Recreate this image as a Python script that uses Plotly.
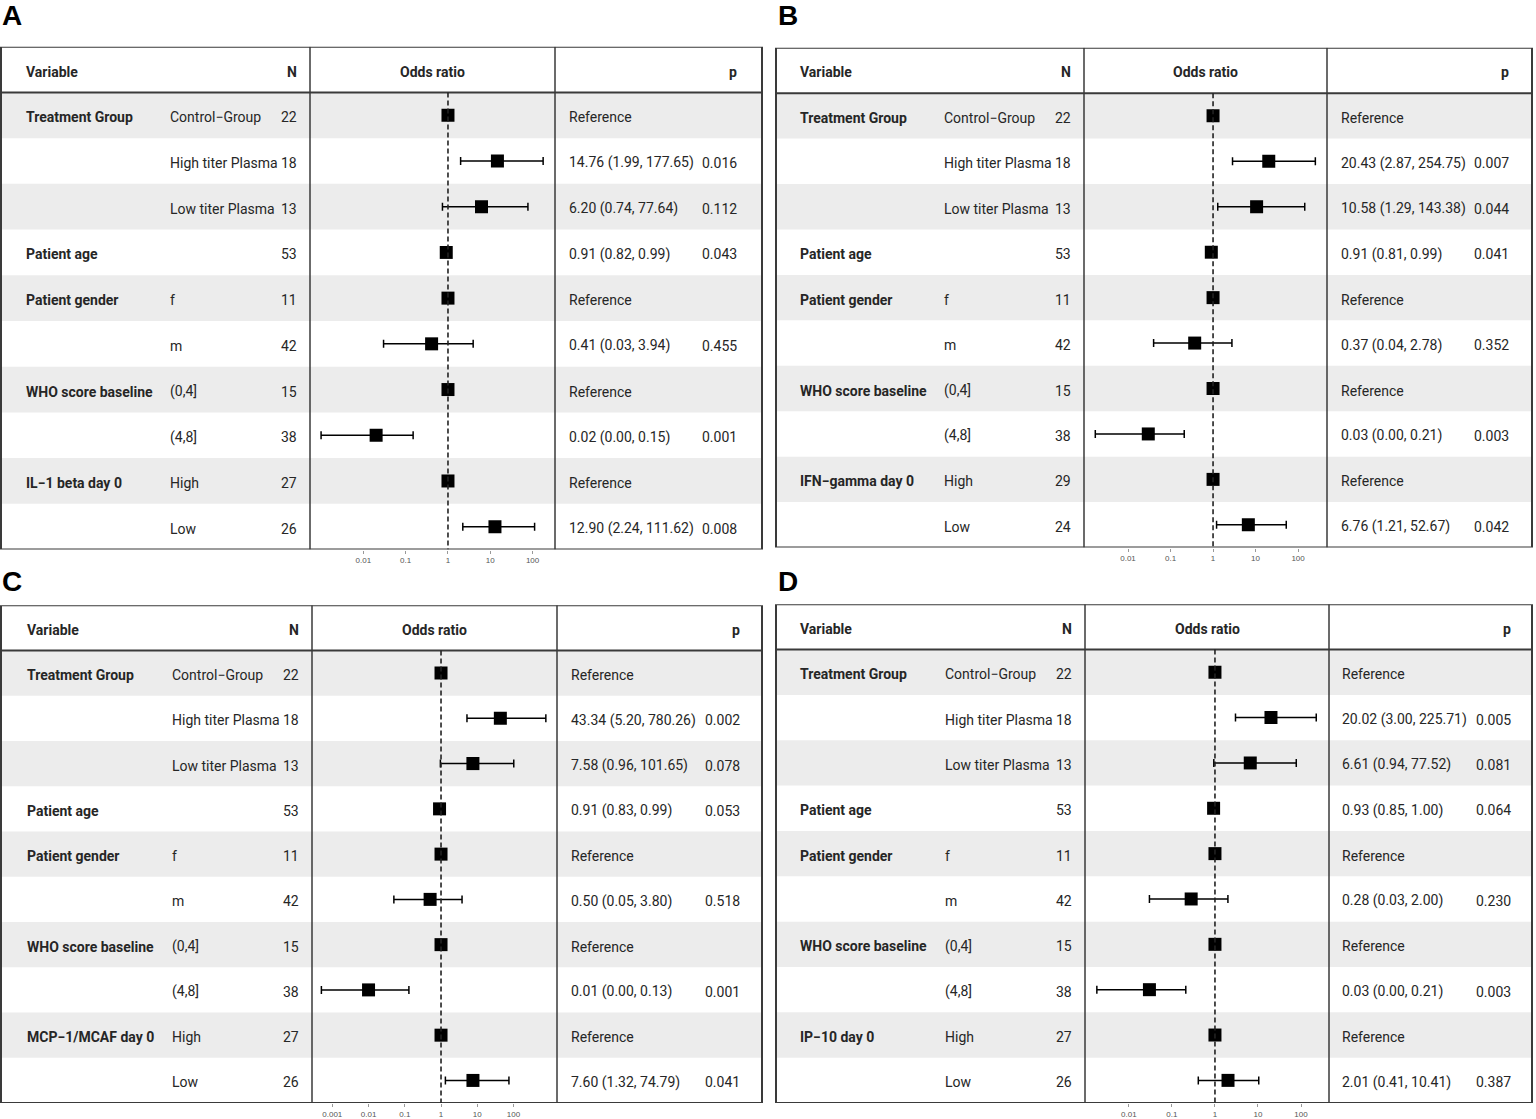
import plotly.graph_objects as go

W, H = 1536, 1119
M = "\u2212"

# shared table structure
levels = ["Control" + M + "Group", "High titer Plasma", "Low titer Plasma", "", "f", "m",
          "(0,4]", "(4,8]", "High", "Low"]
base_vars = ["Treatment Group", "", "", "Patient age", "Patient gender", "",
             "WHO score baseline", "", None, ""]
ref_rows = [0, 4, 6, 8]

# panel A
var_a = "IL" + M + "1 beta day 0"
n_a = [22, 18, 13, 53, 11, 42, 15, 38, 27, 26]
or_a = [1, 14.76, 6.20, 0.91, 1, 0.41, 1, 0.02, 1, 12.90]
lo_a = [None, 1.99, 0.74, 0.82, None, 0.03, None, 0.001, None, 2.24]
hi_a = [None, 177.65, 77.64, 0.99, None, 3.94, None, 0.15, None, 111.62]
p_a = ["", "0.016", "0.112", "0.043", "", "0.455", "", "0.001", "", "0.008"]

# panel B
var_b = "IFN" + M + "gamma day 0"
n_b = [22, 18, 13, 53, 11, 42, 15, 38, 29, 24]
or_b = [1, 20.43, 10.58, 0.91, 1, 0.37, 1, 0.03, 1, 6.76]
lo_b = [None, 2.87, 1.29, 0.81, None, 0.04, None, 0.0017, None, 1.21]
hi_b = [None, 254.75, 143.38, 0.99, None, 2.78, None, 0.21, None, 52.67]
p_b = ["", "0.007", "0.044", "0.041", "", "0.352", "", "0.003", "", "0.042"]

# panel C
var_c = "MCP" + M + "1/MCAF day 0"
n_c = [22, 18, 13, 53, 11, 42, 15, 38, 27, 26]
or_c = [1, 43.34, 7.58, 0.91, 1, 0.50, 1, 0.01, 1, 7.60]
lo_c = [None, 5.20, 0.96, 0.83, None, 0.05, None, 0.0005, None, 1.32]
hi_c = [None, 780.26, 101.65, 0.99, None, 3.80, None, 0.13, None, 74.79]
p_c = ["", "0.002", "0.078", "0.053", "", "0.518", "", "0.001", "", "0.041"]

# panel D
var_d = "IP" + M + "10 day 0"
n_d = [22, 18, 13, 53, 11, 42, 15, 38, 27, 26]
or_d = [1, 20.02, 6.61, 0.93, 1, 0.28, 1, 0.03, 1, 2.01]
lo_d = [None, 3.00, 0.94, 0.85, None, 0.03, None, 0.0018, None, 0.41]
hi_d = [None, 225.71, 77.52, 1.00, None, 2.00, None, 0.21, None, 10.41]
p_d = ["", "0.005", "0.081", "0.064", "", "0.230", "", "0.003", "", "0.387"]

ticks_abd = [0.01, 0.1, 1, 10, 100]
ticks_c = [0.001, 0.01, 0.1, 1, 10, 100]

panels = [
    dict(tag="A", var=var_a, n=n_a, est=or_a, lo=lo_a, hi=hi_a, p=p_a, ticks=ticks_abd,
         box=(1, 762, 47, 553), plot=(310, 555), xr=[-3.262, 2.53],
         cols=(24, 168, 299, 567, 739), lab=(0, 16)),
    dict(tag="B", var=var_b, n=n_b, est=or_b, lo=lo_b, hi=hi_b, p=p_b, ticks=ticks_abd,
         box=(776, 1532, 48, 551), plot=(1084, 1327), xr=[-3.035, 2.68],
         cols=(798, 942, 1073, 1339, 1511), lab=(776, 16)),
    dict(tag="C", var=var_c, n=n_c, est=or_c, lo=lo_c, hi=hi_c, p=p_c, ticks=ticks_c,
         box=(1, 762, 609, 1110), plot=(312, 557), xr=[-3.56, 3.2],
         cols=(25, 170, 301, 569, 742), lab=(0, 585)),
    dict(tag="D", var=var_d, n=n_d, est=or_d, lo=lo_d, hi=hi_d, p=p_d, ticks=ticks_abd,
         box=(776, 1532, 608, 1110), plot=(1085, 1329), xr=[-3.02, 2.65],
         cols=(798, 943, 1074, 1340, 1513), lab=(776, 585)),
]

FONT = "Roboto, Liberation Sans, Arial"
TXT = "#262626"
LINE = "#3a3a3a"
SHADE = "#ececec"

fig = go.Figure()
shapes, annos = [], []
nrows = len(levels)

for k, pn in enumerate(panels, start=1):
    xa = "x" if k == 1 else f"x{k}"
    ya = "y" if k == 1 else f"y{k}"
    l, r, t, b = pn["box"]
    pl, pr = pn["plot"]
    cvar, clev, cn, cest, cp = pn["cols"]

    fig.update_layout(**{
        ("xaxis" if k == 1 else f"xaxis{k}"): dict(
            type="log", domain=[pl / W, pr / W], range=pn["xr"], anchor=ya,
            tickvals=pn["ticks"], ticktext=[f"{v:g}" for v in pn["ticks"]],
            ticks="outside", ticklen=3, tickcolor="#999", showgrid=False,
            zeroline=False, showline=False,
            tickfont=dict(family="Liberation Sans, Arial", size=8, color="#555"),
            fixedrange=True),
        ("yaxis" if k == 1 else f"yaxis{k}"): dict(
            domain=[1 - b / H, 1 - t / H], range=[nrows - 0.5, -1.5], anchor=xa,
            visible=False, fixedrange=True),
    })

    # row shading
    for i in range(0, nrows, 2):
        shapes.append(dict(type="rect", xref="paper", yref=ya, x0=l / W, x1=r / W,
                           y0=i - 0.5, y1=i + 0.5, fillcolor=SHADE, line_width=0, layer="below"))
    # box and rules
    shapes.append(dict(type="rect", xref="paper", yref=ya, x0=l / W, x1=r / W,
                       y0=-1.5, y1=nrows - 0.5, line=dict(color=LINE, width=2)))
    shapes.append(dict(type="line", xref="paper", yref=ya, x0=l / W, x1=r / W,
                       y0=-0.5, y1=-0.5, line=dict(color=LINE, width=2)))
    for xd in (0, 1):
        shapes.append(dict(type="line", xref=f"{xa} domain", yref=ya, x0=xd, x1=xd,
                           y0=-1.5, y1=nrows - 0.5, line=dict(color=LINE, width=1.5)))
    shapes.append(dict(type="line", xref=xa, yref=ya, x0=1, x1=1, y0=-0.5, y1=nrows - 0.5,
                       line=dict(color="#222", width=1.6, dash="5px,3px")))

    # reference rows
    fig.add_trace(go.Scatter(
        x=[1] * len(ref_rows), y=ref_rows, mode="markers", xaxis=xa, yaxis=ya,
        marker=dict(symbol="square", size=13, color="black"), showlegend=False,
        hoverinfo="skip"))
    # estimates with CI
    rows = [i for i in range(nrows) if i not in ref_rows]
    est = [pn["est"][i] for i in rows]
    fig.add_trace(go.Scatter(
        x=est, y=rows, mode="markers", xaxis=xa, yaxis=ya,
        marker=dict(symbol="square", size=13, color="black"), showlegend=False,
        error_x=dict(type="data", symmetric=False,
                     array=[pn["hi"][i] - pn["est"][i] for i in rows],
                     arrayminus=[pn["est"][i] - pn["lo"][i] for i in rows],
                     color="black", thickness=1.5, width=4)))

    def txt(x, y, s, anchor="left", bold=False):
        annos.append(dict(xref="paper", yref=ya, x=x / W, y=y, text=f"<b>{s}</b>" if bold else s,
                          xanchor=anchor, yanchor="middle", showarrow=False, yshift=-2,
                          font=dict(family=FONT, size=14, color=TXT)))

    # header
    txt(cvar, -1, "Variable", bold=True)
    txt(cn, -1, "N", "right", bold=True)
    txt((pl + pr) / 2, -1, "Odds ratio", "center", bold=True)
    txt(cp, -1, "p", "right", bold=True)

    names = [pn["var"] if v is None else v for v in base_vars]
    for i in range(nrows):
        if names[i]:
            txt(cvar, i, names[i], bold=True)
        if levels[i]:
            txt(clev, i, levels[i])
        txt(cn, i, str(pn["n"][i]), "right")
        if i in ref_rows:
            txt(cest, i, "Reference")
        else:
            txt(cest, i, f"{pn['est'][i]:.2f} ({pn['lo'][i]:.2f}, {pn['hi'][i]:.2f})")
            txt(cp, i, pn["p"][i], "right")

    lx, ly = pn["lab"]
    annos.append(dict(xref="paper", yref="paper", x=lx / W, y=1 - ly / H, text=f"<b>{pn['tag']}</b>",
                      xanchor="left", yanchor="middle", showarrow=False,
                      font=dict(family="Liberation Sans, Arial", size=28, color="black")))

fig.update_layout(width=W, height=H, margin=dict(l=0, r=0, t=0, b=0),
                  plot_bgcolor="rgba(0,0,0,0)", paper_bgcolor="white",
                  shapes=shapes, annotations=annos,
                  font=dict(family=FONT, color=TXT))

fig.write_html("out.html", config={"displayModeBar": False},
               post_script="document.body.style.margin='0px';")
